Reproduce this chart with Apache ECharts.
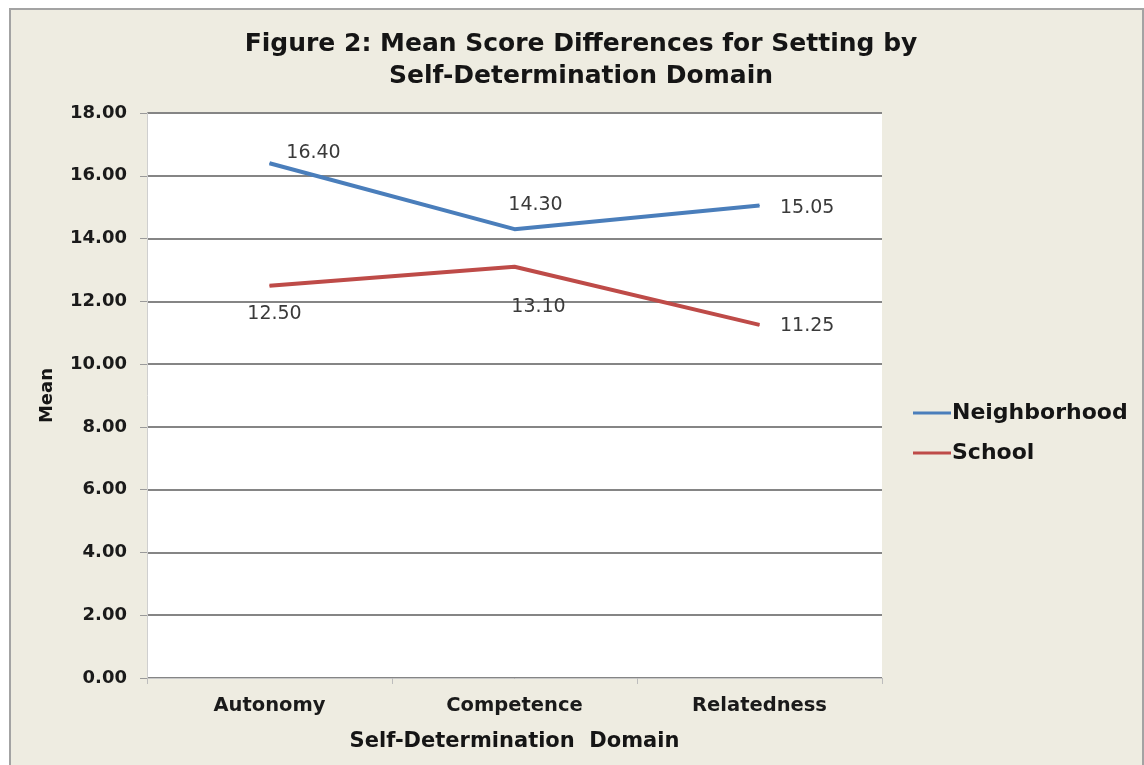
<!DOCTYPE html>
<html>
<head>
<meta charset="utf-8">
<script src="https://cdn.jsdelivr.net/npm/echarts@6/dist/echarts.min.js"></script>
<style>
  body { margin: 0; background: #ffffff; }
  #frame { position: absolute; left: 9px; top: 8px; width: 1131px; height: 780px;
           border: 2px solid #a3a3a3; background: #eeece1; }
  #main { position: absolute; left: 0; top: 0; width: 1144px; height: 765px; }
</style>
</head>
<body>
<div id="frame"></div>
<div id="main"></div>
<script>
var domains = ['Autonomy', 'Competence', 'Relatedness'];
var neighborhood = [16.40, 14.30, 15.05];
var school = [12.50, 13.10, 11.25];
var yTicks = { min: 0, max: 18, step: 2 };

// label placement per point (position, offset)
var nbLabels = [['top', [44, 5]], ['top', [21, -9]], ['right', [15, 2]]];
var scLabels = [['bottom', [5, 13]], ['bottom', [24, 25]], ['right', [15, 1]]];

function withLabels(values, places) {
    return values.map(function (v, i) {
        return { value: v, label: { position: places[i][0], offset: places[i][1] } };
    });
}

var chart = echarts.init(document.getElementById('main'));
var font = 'DejaVu Sans, Arial, sans-serif';
var labelStyle = {
    show: true,
    fontSize: 19,
    color: '#3a3a3a',
    fontFamily: font,
    formatter: function (p) { return p.value.toFixed(2); }
};

var option = {
    backgroundColor: 'transparent',
    animation: false,
    textStyle: { fontFamily: font },
    title: {
        text: 'Figure 2: Mean Score Differences for Setting by\nSelf-Determination Domain',
        left: 576,
        textAlign: 'center',
        top: 23,
        textStyle: { fontSize: 25, fontWeight: 'bold', color: '#151515', lineHeight: 32, fontFamily: font }
    },
    legend: {
        orient: 'vertical',
        left: 908,
        top: 397,
        itemWidth: 38,
        itemHeight: 3,
        itemGap: 18,
        icon: 'rect',
        textStyle: { fontSize: 22, fontWeight: 'bold', color: '#151515', padding: [0, 0, 0, -4], fontFamily: font },
        data: ['Neighborhood', 'School']
    },
    grid: {
        left: 147, right: 262, top: 113, bottom: 87,
        show: true, backgroundColor: '#ffffff', borderWidth: 0
    },
    xAxis: {
        type: 'category',
        data: domains,
        boundaryGap: true,
        name: 'Self-Determination  Domain',
        nameLocation: 'middle',
        nameGap: 53,
        nameTextStyle: { fontSize: 21, fontWeight: 'bold', color: '#151515', fontFamily: font },
        axisLine: { lineStyle: { color: '#c8c8c8', width: 1 } },
        axisTick: { show: true, length: 6, interval: 0, lineStyle: { color: '#bdbdbd' } },
        axisLabel: { fontSize: 19.5, fontWeight: 'bold', color: '#1a1a1a', margin: 18, fontFamily: font }
    },
    yAxis: {
        type: 'value',
        min: yTicks.min,
        max: yTicks.max,
        interval: yTicks.step,
        name: 'Mean',
        nameLocation: 'middle',
        nameGap: 91,
        nameTextStyle: { fontSize: 18, fontWeight: 'bold', color: '#151515', fontFamily: font },
        axisLine: { show: true, lineStyle: { color: '#cfcfcf', width: 1 } },
        axisTick: { show: true, length: 7, lineStyle: { color: '#9a9a9a' } },
        axisLabel: {
            fontSize: 18, fontWeight: 'bold', color: '#1a1a1a', margin: 20, fontFamily: font,
            formatter: function (v) { return v.toFixed(2); }
        },
        splitLine: { lineStyle: { color: '#858585', width: 2 } }
    },
    series: [{
        name: 'Neighborhood',
        type: 'line',
        data: withLabels(neighborhood, nbLabels),
        symbol: 'circle',
        symbolSize: 1,
        color: '#4a7ebb',
        lineStyle: { width: 4, color: '#4a7ebb' },
        label: labelStyle
    }, {
        name: 'School',
        type: 'line',
        data: withLabels(school, scLabels),
        symbol: 'circle',
        symbolSize: 1,
        color: '#be4b48',
        lineStyle: { width: 4, color: '#be4b48' },
        label: labelStyle
    }]
};

chart.setOption(option);
</script>
</body>
</html>
